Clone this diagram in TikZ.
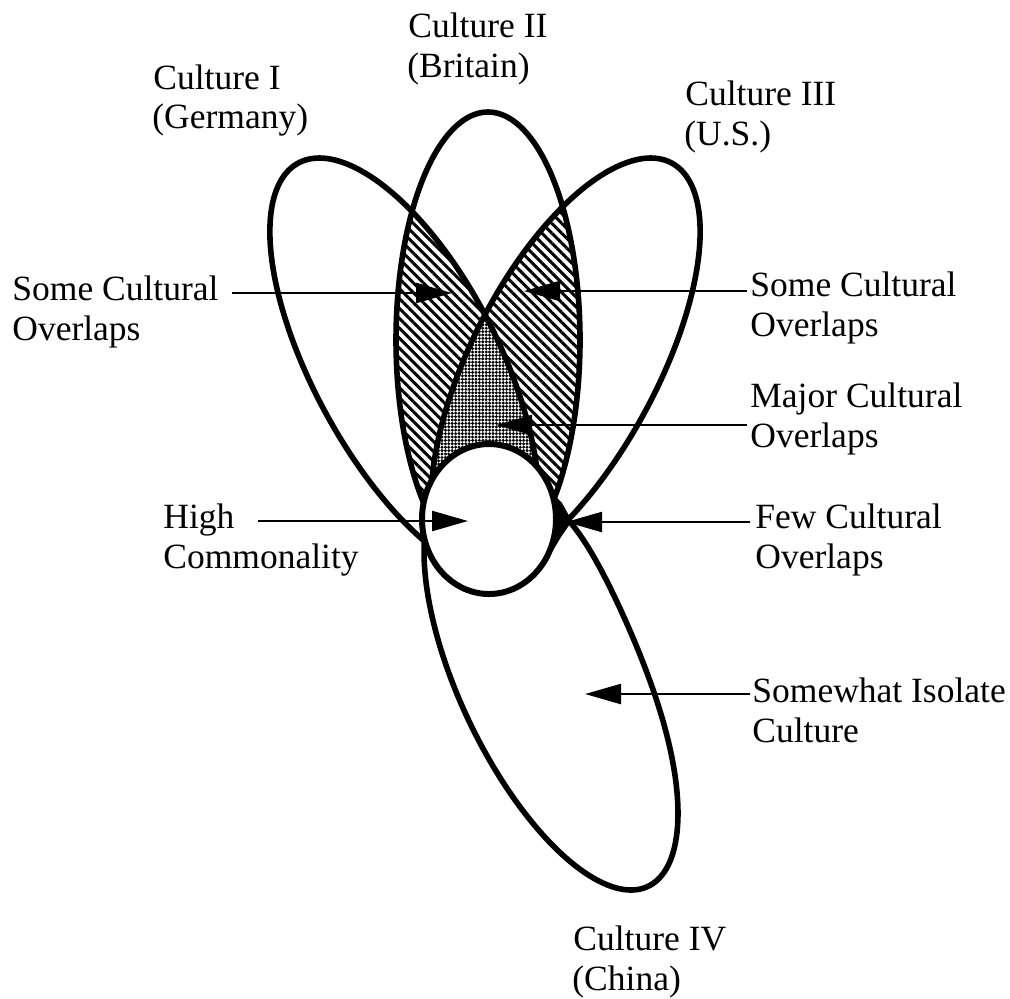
\documentclass[tikz,border=0pt]{standalone}
\usepackage{fontspec}
\setmainfont{Liberation Serif}
\usetikzlibrary{arrows.meta,patterns.meta}
\newcommand\shpI{plot[domain=0:360,samples=181,variable=\t] ({410.84-91.5*cos(\t)+(98+8*cos(\t))*sin(\t)-5*(1-cos(\t))*(1-sin(\t))},{366-208*cos(\t)}) -- cycle}
\newcommand\shpIII{plot[domain=0:360,samples=181,variable=\t] ({970-(410.84-91.5*cos(\t)+(98+8*cos(\t))*sin(\t)-5*(1-cos(\t))*(1-sin(\t)))},{366-208*cos(\t)}) -- cycle}
\newcommand\shpII{plot[domain=0:360,samples=181,variable=\t] ({488+92*sin(\t)},{340-228*cos(\t)}) -- cycle}
\newcommand\shpIV{plot[domain=0:360,samples=181,variable=\t] ({551+80*cos(\t)+98.6*sin(\t)+60*((1-cos(\t))/2)^6*max(sin(\t),0)},{682.5+207.5*cos(\t)}) -- cycle}
\newcommand\shpC{plot[domain=0:360,samples=121,variable=\t] ({489+67*cos(\t)},{519+75*sin(\t)}) -- cycle}
\begin{document}
\begin{tikzpicture}[x=0.5pt,y=-0.5pt,
  outline/.style={line width=2.8pt,line join=round},
  hatch/.style={pattern={Lines[angle=-45,distance=3.5pt,line width=1.5pt]}},
  dotsty/.style={pattern={Dots[distance=1.7pt,radius=0.82pt]}},
  conn/.style={line width=1.2pt,-{Triangle[length=18pt,width=10pt]}},
  lbl/.style={anchor=base west,inner sep=0pt,font=\fontsize{17.75pt}{20pt}\selectfont}]
\useasboundingbox (0,0) rectangle (1010,998);
% hatched overlaps
\begin{scope}
  \clip \shpII;
  \fill[hatch] \shpI;
  \fill[hatch] \shpIII;
\end{scope}
% major overlap (dotted)
\begin{scope}
  \clip \shpI;
  \clip \shpIII;
  \fill[white] \shpII;
  \fill[dotsty] \shpII;
\end{scope}
% few overlaps (black)
\begin{scope}
  \clip \shpIII;
  \fill[black] \shpIV;
\end{scope}
\fill[black] (546,486) -- (562,503) -- (572,521) -- (561,537) -- (549,557) -- (520,530) -- cycle;
% outlines
\draw[outline] \shpI;
\draw[outline] \shpII;
\draw[outline] \shpIII;
\draw[outline] \shpIV;
% high commonality circle
\filldraw[outline,fill=white,line width=3pt] \shpC;
% labels
\node[lbl] (c1a) at (153,89) {Culture I};
\node[lbl] (c1b) at (152,128) {(Germany)};
\node[lbl] (c2a) at (408,37) {Culture II};
\node[lbl] (c2b) at (407,77) {(Britain)};
\node[lbl] (c3a) at (685,105) {Culture III};
\node[lbl] (c3b) at (684,145) {(U.S.)};
\node[lbl] (c4a) at (573,950) {Culture IV};
\node[lbl] (c4b) at (572,990) {(China)};
\node[lbl] (s1a) at (12,300) {Some Cultural};
\node[lbl] (s1b) at (12,340) {Overlaps};
\node[lbl] (s2a) at (750,296) {Some Cultural};
\node[lbl] (s2b) at (750,336) {Overlaps};
\node[lbl] (m1a) at (750,407) {Major Cultural};
\node[lbl] (m1b) at (750,447) {Overlaps};
\node[lbl] (h1a) at (163,528) {High};
\node[lbl] (h1b) at (163,568) {Commonality};
\node[lbl] (f1a) at (755,528) {Few Cultural};
\node[lbl] (f1b) at (755,568) {Overlaps};
\node[lbl] (w1a) at (752,702) {Somewhat Isolate};
\node[lbl] (w1b) at (752,742) {Culture};
% connectors
\coordinate (sLs) at (232,293); \coordinate (sLt) at (452,293);
\coordinate (sRs) at (747,291); \coordinate (sRt) at (524,291);
\coordinate (mjs) at (747,425); \coordinate (mjt) at (496,425);
\coordinate (hcs) at (258,521); \coordinate (hct) at (468,521);
\coordinate (fws) at (750,522); \coordinate (fwt) at (566,522);
\coordinate (sws) at (750,694); \coordinate (swt) at (585,694);
\draw[conn] (sLs) -- (sLt);
\draw[conn] (sRs) -- (sRt);
\draw[conn] (mjs) -- (mjt);
\draw[conn] (hcs) -- (hct);
\draw[conn] (fws) -- (fwt);
\draw[conn] (sws) -- (swt);
\end{tikzpicture}
\end{document}
